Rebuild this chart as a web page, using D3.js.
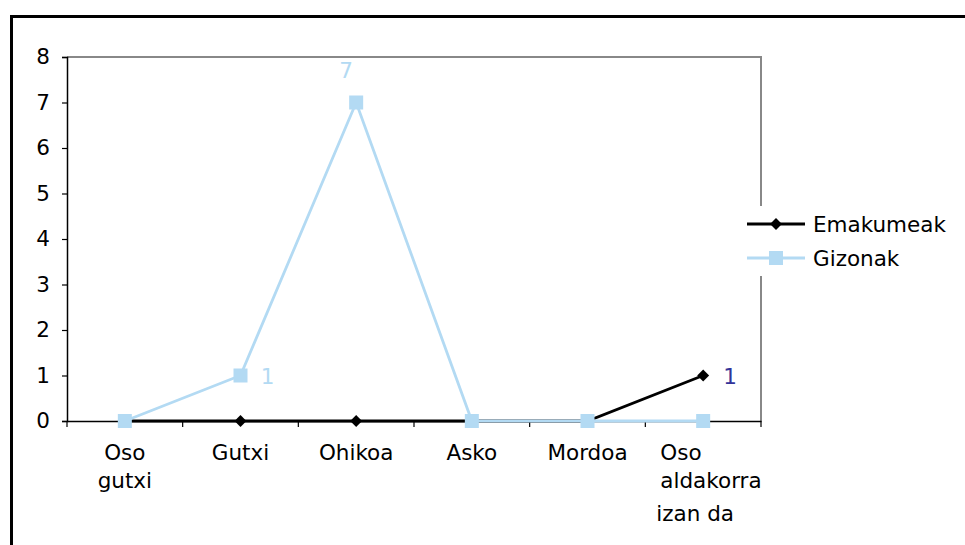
<!DOCTYPE html>
<html><head><meta charset="utf-8">
<script src="https://cdn.jsdelivr.net/npm/d3@7"></script>
<style>body{margin:0;background:#fff}svg{display:block}text{font-family:"DejaVu Sans",Verdana,sans-serif}</style>
</head><body>
<svg id="c" width="965" height="545"></svg>
<script>
const categories = ["Oso gutxi","Gutxi","Ohikoa","Asko","Mordoa","Oso aldakorra izan da"];
const categoryLines = [["Oso","gutxi"],["Gutxi"],["Ohikoa"],["Asko"],["Mordoa"],["Oso","aldakorra","izan da"]];
const emakumeak = [0,0,0,0,0,1];
const gizonak = [0,1,7,0,0,0];
const yTicks = [0,1,2,3,4,5,6,7,8];
const seriesNames = ["Emakumeak","Gizonak"];
// data labels shown: [seriesIndex, categoryIndex]
const labelled = [[1,1],[1,2],[0,5]];

const svg = d3.select("#c");
const fs = 21.5;
const L = 67, R = 761, T = 57, B = 421;
const x = d3.scaleBand().domain(categories).range([L,R]);
const y = d3.scaleLinear().domain([0,8]).range([B,T]);
const cx = c => x(c) + x.bandwidth()/2;

// outer frame
svg.append("rect").attr("x",11.5).attr("y",16.5).attr("width",1000).attr("height",600)
  .attr("fill","none").attr("stroke","#000").attr("stroke-width",3);

// plot area border (gray top/right)
svg.append("path").attr("d",`M${L},${T}H${R}V${B}`).attr("fill","none")
  .attr("stroke","#888").attr("stroke-width",2);

// y axis
const ya = svg.append("g").attr("transform",`translate(${L},0)`)
  .call(d3.axisLeft(y).tickValues(yTicks).tickSize(5).tickPadding(12).tickFormat(d3.format("d")));
ya.select(".domain").attr("stroke","#000").attr("stroke-width",1.5);
ya.selectAll(".tick line").attr("stroke","#000").attr("stroke-width",1.2);
ya.selectAll("text").attr("font-size",fs).attr("fill","#000").attr("font-family","DejaVu Sans");

// x axis
const xa = svg.append("g").attr("transform",`translate(0,${B})`)
  .call(d3.axisBottom(x).tickSize(0).tickFormat(""));
xa.select(".domain").attr("stroke","#000").attr("stroke-width",1.5);
const bounds = x.domain().map(d=>x(d)).concat([R]);
xa.selectAll(".bt").data(bounds).enter().append("line").attr("class","bt")
  .attr("x1",d=>d).attr("x2",d=>d).attr("y1",0).attr("y2",6).attr("stroke","#000").attr("stroke-width",1.2);

categories.forEach((c,i)=>{
  const lines = categoryLines[i];
  const last = i===categories.length-1;
  const t = svg.append("text").attr("font-size",fs).attr("fill","#000");
  lines.forEach((ln,j)=>{
    const yy = B + 39 + j*28 + (last && j===2 ? 5 : 0);
    if(last){
      t.append("tspan").attr("x", x(c) + (j===2?11:15)).attr("y",yy).attr("text-anchor","start").text(ln);
    } else {
      t.append("tspan").attr("x", cx(c)).attr("y",yy).attr("text-anchor","middle").text(ln);
    }
  });
});

const blue = "#b3daf3";
const line = d3.line().x((d,i)=>cx(categories[i])).y(d=>y(d));
// Emakumeak
svg.append("path").datum(emakumeak).attr("d",line).attr("fill","none").attr("stroke","#000").attr("stroke-width",2.8);
svg.selectAll(".dia").data(emakumeak).enter().append("path").attr("class","dia")
  .attr("d",d3.symbol().type(d3.symbolDiamond2).size(90))
  .attr("transform",(d,i)=>`translate(${cx(categories[i])},${y(d)})`)
  .attr("fill","#000");
// Gizonak
svg.append("path").datum(gizonak).attr("d",line).attr("fill","none").attr("stroke",blue).attr("stroke-width",2.8);
svg.selectAll(".sq").data(gizonak).enter().append("rect").attr("class","sq")
  .attr("x",(d,i)=>cx(categories[i])-7).attr("y",d=>y(d)-7).attr("width",14).attr("height",14)
  .attr("fill",blue);

// data labels
labelled.forEach(([s,ci])=>{
  const v = s===0 ? emakumeak[ci] : gizonak[ci];
  const px = cx(categories[ci]), py = y(v);
  const top = v===d3.max(gizonak) && s===1;
  svg.append("text").attr("font-size",fs)
    .attr("fill", s===0 ? "#333399" : blue)
    .attr("text-anchor","middle")
    .attr("x", top ? px-10 : px+27)
    .attr("y", top ? py-25 : py+8)
    .text(v);
});

// legend
const lg = svg.append("g");
lg.append("rect").attr("x",742).attr("y",206).attr("width",215).attr("height",70).attr("fill","#fff");
seriesNames.forEach((n,i)=>{
  const ly = 224 + i*34;
  const col = i===0 ? "#000" : blue;
  lg.append("line").attr("x1",747).attr("x2",805).attr("y1",ly).attr("y2",ly).attr("stroke",col).attr("stroke-width",2.8);
  if(i===0){
    lg.append("path").attr("d",d3.symbol().type(d3.symbolDiamond2).size(90)).attr("transform",`translate(776,${ly})`).attr("fill","#000");
  } else {
    lg.append("rect").attr("x",769).attr("y",ly-7).attr("width",14).attr("height",14).attr("fill",blue);
  }
  lg.append("text").attr("x",813).attr("y",ly+8).attr("font-size",fs).attr("fill","#000").text(n);
});
</script>
</body></html>
